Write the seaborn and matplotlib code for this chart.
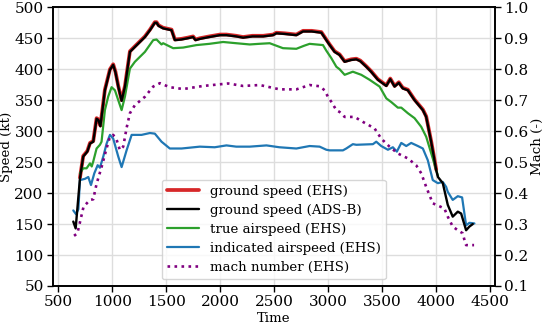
import numpy as np
import pandas as pd
import matplotlib
matplotlib.use("Agg")
import matplotlib.pyplot as plt
import seaborn as sns

# ---------------- data ----------------
gs_adsb_t = [639, 661, 701, 731, 769, 794, 824, 855, 872, 890, 910, 932, 979, 1009, 1030,
             1056, 1087, 1118, 1164, 1210, 1303, 1350, 1395, 1411, 1430, 1472, 1550, 1581,
             1640, 1700, 1750, 1772, 1812, 1900, 2000, 2059, 2150, 2213, 2300, 2400, 2491,
             2522, 2600, 2707, 2769, 2850, 2939, 2985, 3016, 3062, 3108, 3155, 3216, 3263,
             3300, 3355, 3400, 3463, 3541, 3578, 3618, 3657, 3694, 3741, 3803, 3880, 3911,
             3957, 4004, 4020, 4065, 4111, 4157, 4204, 4235, 4281, 4312, 4343]
gs_adsb_v = [154, 143, 224, 259, 267, 280, 283, 320, 318, 308, 335, 366, 399, 407, 395,
             372, 349, 372, 428, 436, 452, 463, 475, 475, 470, 466, 463, 447,
             448, 450, 452, 447, 449, 452, 455, 455, 453, 451, 453, 453, 455,
             458, 457, 455, 461, 461, 459, 447, 439, 428, 423, 412, 415, 416,
             413, 404, 396, 383, 373, 384, 372, 378, 369, 366, 350, 334, 323,
             283, 237, 226, 216, 181, 162, 170, 167, 140, 146, 150]

gs_ehs_t = [701, 731, 769, 794, 824, 855, 872, 890, 910, 932, 979, 1009, 1030, 1056, 1087,
            1118, 1164, 1210, 1303, 1350, 1395, 1411, 1430, 1472, 1550, 1581, 1640, 1700,
            1750, 1772, 1812, 1900, 2000, 2059, 2150, 2213, 2300, 2400, 2491, 2522, 2600,
            2707, 2769, 2850, 2939, 2985, 3016, 3062, 3108, 3155, 3216, 3263, 3300, 3355,
            3400, 3463, 3541, 3578, 3618, 3657, 3694, 3741, 3803, 3880, 3911, 3957, 4004]
gs_ehs_v = [225, 260, 268, 281, 284, 321, 319, 309, 336, 367, 400, 408, 396, 373, 350,
            373, 429, 437, 453, 464, 476, 476, 471, 467, 464, 448, 449, 451,
            453, 448, 450, 453, 456, 456, 454, 452, 454, 454, 456, 459, 458,
            456, 462, 462, 460, 448, 440, 429, 424, 413, 416, 417, 414, 405,
            397, 384, 374, 385, 373, 379, 370, 367, 351, 335, 324, 284, 238]

tas_t = [701, 731, 762, 794, 810, 824, 855, 886, 901, 932, 963, 994, 1025, 1056, 1087,
         1118, 1164, 1210, 1303, 1380, 1411, 1457, 1472, 1565, 1658, 1781, 1900, 2028,
         2150, 2275, 2360, 2460, 2583, 2707, 2780, 2830, 2954, 2985, 3031, 3078, 3108,
         3155, 3231, 3309, 3386, 3479, 3541, 3587, 3648, 3680, 3741, 3803, 3865, 3911,
         3972, 4004, 4020]
tas_v = [232, 240, 240, 248, 243, 251, 272, 278, 283, 334, 356, 371, 366, 350, 334,
         356, 401, 412, 428, 447, 448, 440, 442, 434, 435, 439, 441, 444,
         442, 440, 441, 442, 434, 433, 438, 441, 439, 430, 418, 404, 400,
         391, 396, 391, 383, 372, 353, 347, 338, 338, 329, 321, 307, 291,
         256, 237, 228]

ias_t = [639, 664, 686, 701, 747, 778, 803, 834, 865, 886, 917, 948, 979, 1009, 1056,
         1087, 1133, 1180, 1272, 1349, 1395, 1457, 1534, 1643, 1812, 1950, 2059, 2150,
         2275, 2430, 2550, 2707, 2830, 2923, 2985, 3016, 3139, 3170, 3231, 3263, 3417,
         3448, 3494, 3556, 3602, 3639, 3680, 3726, 3772, 3834, 3880, 3926, 3972, 4019,
         4065, 4096, 4111, 4157, 4204, 4244, 4281, 4312, 4358]
ias_v = [172, 166, 174, 221, 223, 226, 213, 232, 245, 241, 259, 280, 294, 288, 259,
         242, 269, 294, 294, 297, 296, 283, 272, 272, 275, 274, 277, 275,
         275, 277, 274, 272, 276, 275, 270, 269, 269, 272, 279, 278, 279,
         283, 276, 270, 274, 267, 281, 276, 281, 276, 272, 253, 221, 216,
         218, 210, 202, 189, 195, 193, 148, 152, 151]

mach_t = [646, 677, 734, 794, 824, 855, 902, 948, 979, 1009, 1041, 1071, 1102, 1133, 1164,
          1210, 1303, 1380, 1442, 1534, 1658, 1843, 2074, 2213, 2368, 2553, 2707, 2830,
          2923, 2969, 3000, 3031, 3078, 3108, 3155, 3247, 3324, 3432, 3494, 3571, 3648,
          3741, 3818, 3865, 3911, 3972, 4019, 4080, 4111, 4157, 4204, 4250, 4266, 4281, 4355]
mach_v = [0.262, 0.27, 0.356, 0.378, 0.38, 0.43, 0.485, 0.545, 0.582, 0.588, 0.572, 0.539,
          0.55, 0.61, 0.658, 0.684, 0.711, 0.744, 0.755, 0.742, 0.736, 0.746, 0.754, 0.746,
          0.749, 0.735, 0.735, 0.749, 0.745, 0.732, 0.711, 0.695, 0.668, 0.662, 0.646,
          0.646, 0.63, 0.609, 0.576, 0.55, 0.528, 0.512, 0.49, 0.464, 0.42, 0.367, 0.36,
          0.35, 0.324, 0.292, 0.28, 0.27, 0.248, 0.232, 0.232]

labels = ["ground speed (EHS)", "ground speed (ADS-B)", "true airspeed (EHS)",
          "indicated airspeed (EHS)", "mach number (EHS)"]
x_ticks = [500, 1000, 1500, 2000, 2500, 3000, 3500, 4000, 4500]
speed_ticks = [50, 100, 150, 200, 250, 300, 350, 400, 450, 500]
mach_ticks = [0.1, 0.2, 0.3, 0.4, 0.5, 0.6, 0.7, 0.8, 0.9, 1.0]

# ---------------- style ----------------
sns.set_theme(style="ticks")
FS = 9.6
plt.rcParams.update({
    "font.family": ["DejaVu Serif"],
    "font.size": FS,
    "axes.edgecolor": "black",
    "axes.linewidth": 1.2,
    "xtick.color": "black",
    "ytick.color": "black",
    "axes.labelcolor": "black",
    "text.color": "black",
    "xtick.major.size": 4,
    "ytick.major.size": 4,
    "xtick.major.width": 1.0,
    "ytick.major.width": 1.0,
    "xtick.major.pad": 2.5,
    "ytick.major.pad": 2.5,
})

fig = plt.figure(figsize=(5.46, 3.32), dpi=100)
ax = fig.add_subplot(111)
fig.subplots_adjust(left=0.0965, right=0.9066, top=0.978, bottom=0.1386)

def df(t, v):
    return pd.DataFrame({"t": t, "v": v})

sns.lineplot(data=df(gs_ehs_t, gs_ehs_v), x="t", y="v", ax=ax, color="#d62728",
             lw=2.7, label=labels[0], zorder=3)
sns.lineplot(data=df(gs_adsb_t, gs_adsb_v), x="t", y="v", ax=ax, color="black",
             lw=1.7, label=labels[1], zorder=4)
sns.lineplot(data=df(tas_t, tas_v), x="t", y="v", ax=ax, color="#2ca02c",
             lw=1.6, label=labels[2], zorder=3)
sns.lineplot(data=df(ias_t, ias_v), x="t", y="v", ax=ax, color="#1f77b4",
             lw=1.6, label=labels[3], zorder=3)

ax2 = ax.twinx()
sns.lineplot(data=df(mach_t, mach_v), x="t", y="v", ax=ax2, color="purple",
             lw=1.9, linestyle=":", label=labels[4])

ax.set_xlim(448, 4549)
ax.set_ylim(50, 500)
ax2.set_ylim(0.1, 1.0)
ax.set_xticks(x_ticks)
ax.set_yticks(speed_ticks)
ax2.set_yticks(mach_ticks)
ax2.set_yticklabels([f"{m:.1f}" for m in mach_ticks])

ax.grid(True, color="#dddddd", lw=1.0)
ax.set_axisbelow(True)
ax2.grid(False)

ax.set_xlabel("Time", fontsize=FS, labelpad=2)
ax.set_ylabel("Speed (kt)", fontsize=FS, labelpad=1)
ax2.set_ylabel("Mach (-)", fontsize=FS, labelpad=2)
ax2.set_xlabel("")

for s in ax.spines.values():
    s.set_visible(True)
    s.set_color("black")
for s in ax2.spines.values():
    s.set_visible(True)
    s.set_color("black")

h1, l1 = ax.get_legend_handles_labels()
h2, l2 = ax2.get_legend_handles_labels()
if ax.get_legend() is not None:
    ax.get_legend().remove()
if ax2.get_legend() is not None:
    ax2.get_legend().remove()
leg = ax2.legend(h1 + h2, l1 + l2, loc="lower center", fontsize=FS,
                 handlelength=2.4, frameon=True, fancybox=True,
                 framealpha=0.8, edgecolor="#cccccc", labelspacing=0.45)

fig.savefig("out.png", dpi=100)
